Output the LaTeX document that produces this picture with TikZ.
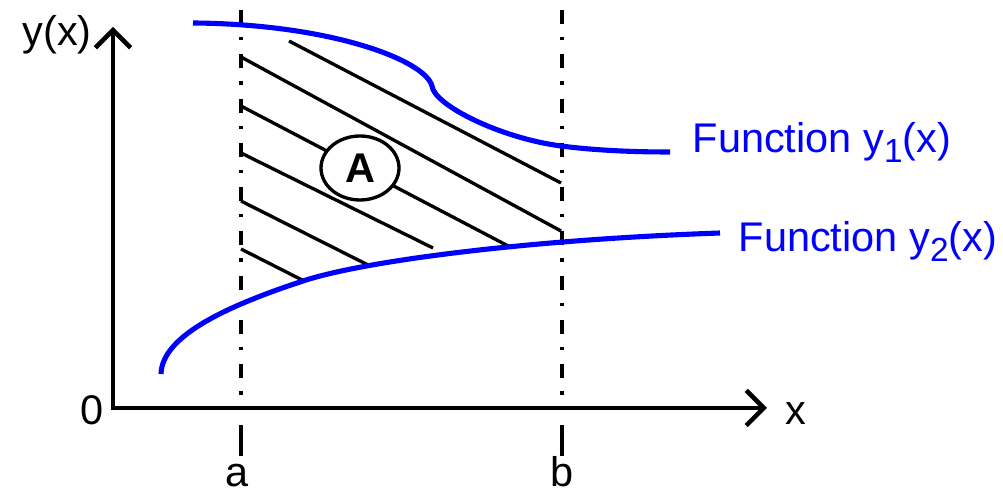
\documentclass[tikz,border=0pt]{standalone}
\usepackage{fontspec}
\setmainfont{Liberation Sans}
\usetikzlibrary{arrows.meta,shapes.geometric}
\newcommand\lowidx[1]{\raisebox{-2.8pt}{\fontsize{9.5}{9.5}\selectfont #1}}
\begin{document}
\begin{tikzpicture}[x=0.1mm, y=-0.1mm,
  axis/.style={line width=1.3pt, {Straight Barb[length=5pt,width=10pt]}-{Straight Barb[length=5pt,width=10pt]}},
  dashdot/.style={line width=1.05pt, dash pattern=on 1.4mm off 1.3mm on 0.33mm off 1.4mm},
  ticky/.style={line width=1.05pt},
  hatch/.style={line width=0.95pt},
  curve/.style={line width=1.45pt, blue},
  lbl/.style={inner sep=0pt, font=\fontsize{11.8}{14}\selectfont},
  fnlabel/.style={lbl, anchor=base west, text=blue}
]
\useasboundingbox (0,0) rectangle (1003,491);
\coordinate (O) at (113,408);
\coordinate (ytip) at (113,27);
\coordinate (xtip) at (767,408);
\draw[axis] (ytip) -- (O) -- (xtip);
\node[lbl, anchor=base west] (ylabel) at (22,46) {y(x)};
\node[lbl, anchor=base] (zero) at (92,425) {0};
\node[lbl, anchor=base west] (xlabel) at (785,425) {x};
\node[lbl, anchor=base] (alabel) at (237,487) {a};
\node[lbl, anchor=base] (blabel) at (562,487) {b};
\draw[dashdot] (241,10) -- (241,408);
\draw[dashdot] (562,10) -- (562,408);
\draw[ticky] (241,425) -- (241,456);
\draw[ticky] (562,425) -- (562,456);
\draw[hatch] (289,41) -- (561,183);
\draw[hatch] (241,57) -- (561,231);
\draw[hatch] (241,106) -- (512,248);
\draw[hatch] (241,153) -- (433,248);
\draw[hatch] (241,201) -- (368,265);
\draw[hatch] (241,249) -- (304,281);
\node[ellipse, draw, fill=white, line width=0.95pt, minimum width=7.8mm, minimum height=6.4mm, inner sep=0pt, font=\fontsize{11.8}{14}\selectfont\bfseries] (areaA) at (360,168) {A};
\draw[curve] (193,23) .. controls (330,24) and (425,60) .. (432,86)
  .. controls (434,105) and (500,138) .. (561,146)
  .. controls (600,151) and (640,152) .. (670,152);
\draw[curve] (161,374) .. controls (162,335) and (230,305) .. (303,281)
  .. controls (360,262) and (520,240) .. (720,233);
\node[fnlabel] (yone) at (692,153) {Function y\lowidx{1}(x)};
\node[fnlabel] (ytwo) at (738,252) {Function y\lowidx{2}(x)};
\end{tikzpicture}
\end{document}
